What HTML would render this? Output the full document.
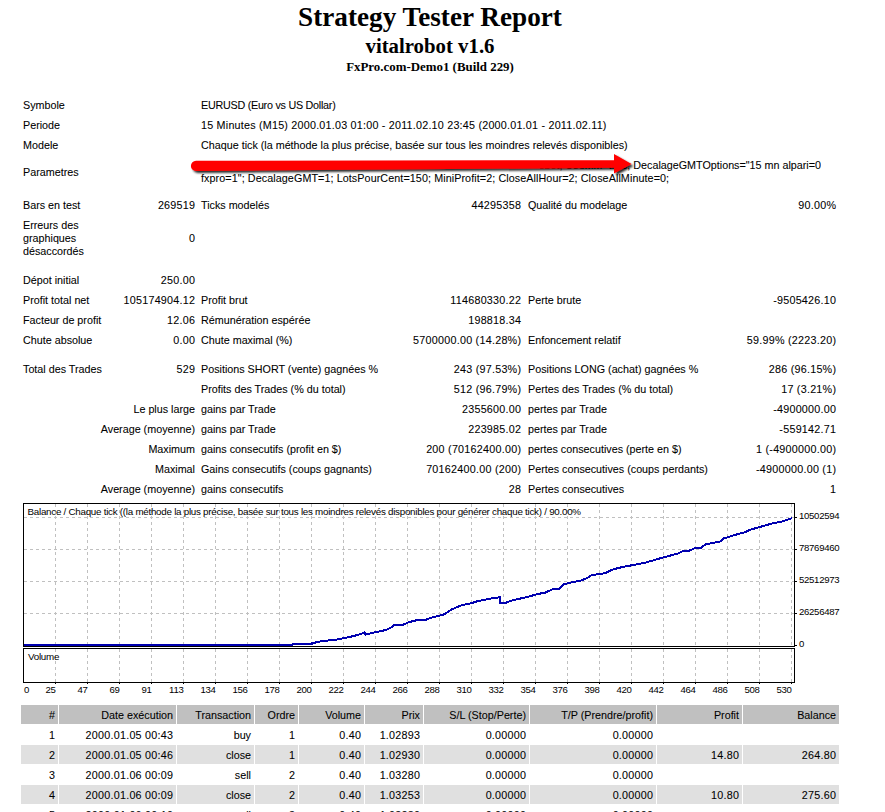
<!DOCTYPE html>
<html><head><meta charset="utf-8"><title>Strategy Tester Report</title>
<style>
html,body{margin:0;padding:0;background:#fff;}
body{width:885px;height:812px;overflow:hidden;position:relative;}
.t{position:absolute;font-family:"Liberation Sans",sans-serif;font-size:10.75px;line-height:13px;white-space:nowrap;color:#000;-webkit-text-stroke:0.07px #000;}
.bg{position:absolute;height:19px;}
.h{position:absolute;left:0;width:860px;text-align:center;font-family:"Liberation Serif",serif;font-weight:bold;white-space:nowrap;color:#000;}
.chart{position:absolute;left:0;top:0;}
.ax{font-family:"Liberation Sans",sans-serif;font-size:9.6px;letter-spacing:-0.3px;fill:#000;}
.ct{font-family:"Liberation Sans",sans-serif;font-size:9.8px;letter-spacing:-0.26px;fill:#000;}
</style></head><body>
<div class="h" style="top:1px;font-size:27.2px;line-height:32px;">Strategy Tester Report</div>
<div class="h" style="top:34px;font-size:20.8px;line-height:24px;">vitalrobot v1.6</div>
<div class="h" style="top:58.5px;font-size:12.9px;line-height:16px;">FxPro.com-Demo1 (Build 229)</div>
<div class="t" style="left:23px;top:99px;">Symbole</div>
<div class="t" style="left:201px;top:99px;letter-spacing:-0.25px;">EURUSD (Euro vs US Dollar)</div>
<div class="t" style="left:23px;top:119px;">Periode</div>
<div class="t" style="left:201px;top:119px;letter-spacing:0.22px;">15 Minutes (M15) 2000.01.03 01:00 - 2011.02.10 23:45 (2000.01.01 - 2011.02.11)</div>
<div class="t" style="left:23px;top:139px;">Modele</div>
<div class="t" style="left:201px;top:139px;">Chaque tick (la méthode la plus précise, basée sur tous les moindres relevés disponibles)</div>
<div class="t" style="left:23px;top:166px;">Parametres</div>
<div style="position:absolute;left:540px;top:159px;width:281px;height:12px;overflow:hidden;"><div class="t" style="right:0;top:0;">TakeProfit=0; StopLoss=0; Lots=0.1; MaxTrades=1; Slippage=3; MagicNumber=229; OrderComment=vitalrobot; UseMM=true; DecalageGMTOptions="15 mn alpari=0</div></div>
<div class="t" style="left:201px;top:172px;letter-spacing:0.087px;">fxpro=1"; DecalageGMT=1; LotsPourCent=150; MiniProfit=2; CloseAllHour=2; CloseAllMinute=0;</div>
<div class="t" style="left:23px;top:199px;">Bars en test</div>
<div class="t" style="right:690px;top:199px;letter-spacing:0.25px;margin-right:-0.25px;">269519</div>
<div class="t" style="left:201px;top:199px;">Ticks modelés</div>
<div class="t" style="right:364px;top:199px;letter-spacing:0.25px;margin-right:-0.25px;">44295358</div>
<div class="t" style="left:528px;top:199px;">Qualité du modelage</div>
<div class="t" style="right:49px;top:199px;letter-spacing:0.25px;margin-right:-0.25px;">90.00%</div>
<div class="t" style="left:23px;top:274px;">Dépot initial</div>
<div class="t" style="right:690px;top:274px;letter-spacing:0.25px;margin-right:-0.25px;">250.00</div>
<div class="t" style="left:23px;top:294px;">Profit total net</div>
<div class="t" style="right:690px;top:294px;letter-spacing:0.25px;margin-right:-0.25px;">105174904.12</div>
<div class="t" style="left:201px;top:294px;">Profit brut</div>
<div class="t" style="right:364px;top:294px;letter-spacing:0.25px;margin-right:-0.25px;">114680330.22</div>
<div class="t" style="left:528px;top:294px;">Perte brute</div>
<div class="t" style="right:49px;top:294px;letter-spacing:0.25px;margin-right:-0.25px;">-9505426.10</div>
<div class="t" style="left:23px;top:314px;">Facteur de profit</div>
<div class="t" style="right:690px;top:314px;letter-spacing:0.25px;margin-right:-0.25px;">12.06</div>
<div class="t" style="left:201px;top:314px;">Rémunération espérée</div>
<div class="t" style="right:364px;top:314px;letter-spacing:0.25px;margin-right:-0.25px;">198818.34</div>
<div class="t" style="left:23px;top:334px;">Chute absolue</div>
<div class="t" style="right:690px;top:334px;letter-spacing:0.25px;margin-right:-0.25px;">0.00</div>
<div class="t" style="left:201px;top:334px;">Chute maximal (%)</div>
<div class="t" style="right:364px;top:334px;letter-spacing:0.25px;margin-right:-0.25px;">5700000.00 (14.28%)</div>
<div class="t" style="left:528px;top:334px;">Enfoncement relatif</div>
<div class="t" style="right:49px;top:334px;letter-spacing:0.25px;margin-right:-0.25px;">59.99% (2223.20)</div>
<div class="t" style="left:23px;top:363px;">Total des Trades</div>
<div class="t" style="right:690px;top:363px;letter-spacing:0.25px;margin-right:-0.25px;">529</div>
<div class="t" style="left:201px;top:363px;">Positions SHORT (vente) gagnées %</div>
<div class="t" style="right:364px;top:363px;letter-spacing:0.25px;margin-right:-0.25px;">243 (97.53%)</div>
<div class="t" style="left:528px;top:363px;">Positions LONG (achat) gagnées %</div>
<div class="t" style="right:49px;top:363px;letter-spacing:0.25px;margin-right:-0.25px;">286 (96.15%)</div>
<div class="t" style="left:201px;top:383px;">Profits des Trades (% du total)</div>
<div class="t" style="right:364px;top:383px;letter-spacing:0.25px;margin-right:-0.25px;">512 (96.79%)</div>
<div class="t" style="left:528px;top:383px;">Pertes des Trades (% du total)</div>
<div class="t" style="right:49px;top:383px;letter-spacing:0.25px;margin-right:-0.25px;">17 (3.21%)</div>
<div class="t" style="right:690px;top:403px;">Le plus large</div>
<div class="t" style="left:201px;top:403px;">gains par Trade</div>
<div class="t" style="right:364px;top:403px;letter-spacing:0.25px;margin-right:-0.25px;">2355600.00</div>
<div class="t" style="left:528px;top:403px;">pertes par Trade</div>
<div class="t" style="right:49px;top:403px;letter-spacing:0.25px;margin-right:-0.25px;">-4900000.00</div>
<div class="t" style="right:690px;top:423px;">Average (moyenne)</div>
<div class="t" style="left:201px;top:423px;">gains par Trade</div>
<div class="t" style="right:364px;top:423px;letter-spacing:0.25px;margin-right:-0.25px;">223985.02</div>
<div class="t" style="left:528px;top:423px;">pertes par Trade</div>
<div class="t" style="right:49px;top:423px;letter-spacing:0.25px;margin-right:-0.25px;">-559142.71</div>
<div class="t" style="right:690px;top:443px;">Maximum</div>
<div class="t" style="left:201px;top:443px;">gains consecutifs (profit en $)</div>
<div class="t" style="right:364px;top:443px;letter-spacing:0.25px;margin-right:-0.25px;">200 (70162400.00)</div>
<div class="t" style="left:528px;top:443px;">pertes consecutives (perte en $)</div>
<div class="t" style="right:49px;top:443px;letter-spacing:0.25px;margin-right:-0.25px;">1 (-4900000.00)</div>
<div class="t" style="right:690px;top:463px;">Maximal</div>
<div class="t" style="left:201px;top:463px;">Gains consecutifs (coups gagnants)</div>
<div class="t" style="right:364px;top:463px;letter-spacing:0.25px;margin-right:-0.25px;">70162400.00 (200)</div>
<div class="t" style="left:528px;top:463px;">Pertes consecutives (coups perdants)</div>
<div class="t" style="right:49px;top:463px;letter-spacing:0.25px;margin-right:-0.25px;">-4900000.00 (1)</div>
<div class="t" style="right:690px;top:483px;">Average (moyenne)</div>
<div class="t" style="left:201px;top:483px;">gains consecutifs</div>
<div class="t" style="right:364px;top:483px;letter-spacing:0.25px;margin-right:-0.25px;">28</div>
<div class="t" style="left:528px;top:483px;">Pertes consecutives</div>
<div class="t" style="right:49px;top:483px;letter-spacing:0.25px;margin-right:-0.25px;">1</div>
<div class="t" style="left:23px;top:219px;">Erreurs des</div>
<div class="t" style="left:23px;top:232px;">graphiques</div>
<div class="t" style="left:23px;top:245px;">désaccordés</div>
<div class="t" style="right:690px;top:232px;letter-spacing:0.25px;margin-right:-0.25px;">0</div>
<div class="bg" style="left:21px;top:705px;width:37px;background:#C0C0C0"></div>
<div class="bg" style="left:59px;top:705px;width:117px;background:#C0C0C0"></div>
<div class="bg" style="left:177px;top:705px;width:77px;background:#C0C0C0"></div>
<div class="bg" style="left:255px;top:705px;width:43px;background:#C0C0C0"></div>
<div class="bg" style="left:299px;top:705px;width:65px;background:#C0C0C0"></div>
<div class="bg" style="left:365px;top:705px;width:58px;background:#C0C0C0"></div>
<div class="bg" style="left:424px;top:705px;width:105px;background:#C0C0C0"></div>
<div class="bg" style="left:530px;top:705px;width:126px;background:#C0C0C0"></div>
<div class="bg" style="left:657px;top:705px;width:85px;background:#C0C0C0"></div>
<div class="bg" style="left:743px;top:705px;width:96px;background:#C0C0C0"></div>
<div class="t" style="right:830px;top:709px;">#</div>
<div class="t" style="right:712px;top:709px;">Date exécution</div>
<div class="t" style="right:634px;top:709px;">Transaction</div>
<div class="t" style="right:590px;top:709px;">Ordre</div>
<div class="t" style="right:524px;top:709px;">Volume</div>
<div class="t" style="right:465px;top:709px;">Prix</div>
<div class="t" style="right:359px;top:709px;">S/L (Stop/Perte)</div>
<div class="t" style="right:232px;top:709px;">T/P (Prendre/profit)</div>
<div class="t" style="right:146px;top:709px;">Profit</div>
<div class="t" style="right:49px;top:709px;">Balance</div>
<div class="t" style="right:830px;top:729px;letter-spacing:0.25px;margin-right:-0.25px;">1</div>
<div class="t" style="right:712px;top:729px;letter-spacing:0.25px;margin-right:-0.25px;">2000.01.05 00:43</div>
<div class="t" style="right:634px;top:729px;">buy</div>
<div class="t" style="right:590px;top:729px;letter-spacing:0.25px;margin-right:-0.25px;">1</div>
<div class="t" style="right:524px;top:729px;letter-spacing:0.25px;margin-right:-0.25px;">0.40</div>
<div class="t" style="right:465px;top:729px;letter-spacing:0.25px;margin-right:-0.25px;">1.02893</div>
<div class="t" style="right:359px;top:729px;letter-spacing:0.25px;margin-right:-0.25px;">0.00000</div>
<div class="t" style="right:232px;top:729px;letter-spacing:0.25px;margin-right:-0.25px;">0.00000</div>
<div class="bg" style="left:21px;top:745px;width:37px;background:#E0E0E0"></div>
<div class="bg" style="left:59px;top:745px;width:117px;background:#E0E0E0"></div>
<div class="bg" style="left:177px;top:745px;width:77px;background:#E0E0E0"></div>
<div class="bg" style="left:255px;top:745px;width:43px;background:#E0E0E0"></div>
<div class="bg" style="left:299px;top:745px;width:65px;background:#E0E0E0"></div>
<div class="bg" style="left:365px;top:745px;width:58px;background:#E0E0E0"></div>
<div class="bg" style="left:424px;top:745px;width:105px;background:#E0E0E0"></div>
<div class="bg" style="left:530px;top:745px;width:126px;background:#E0E0E0"></div>
<div class="bg" style="left:657px;top:745px;width:85px;background:#E0E0E0"></div>
<div class="bg" style="left:743px;top:745px;width:96px;background:#E0E0E0"></div>
<div class="t" style="right:830px;top:749px;letter-spacing:0.25px;margin-right:-0.25px;">2</div>
<div class="t" style="right:712px;top:749px;letter-spacing:0.25px;margin-right:-0.25px;">2000.01.05 00:46</div>
<div class="t" style="right:634px;top:749px;">close</div>
<div class="t" style="right:590px;top:749px;letter-spacing:0.25px;margin-right:-0.25px;">1</div>
<div class="t" style="right:524px;top:749px;letter-spacing:0.25px;margin-right:-0.25px;">0.40</div>
<div class="t" style="right:465px;top:749px;letter-spacing:0.25px;margin-right:-0.25px;">1.02930</div>
<div class="t" style="right:359px;top:749px;letter-spacing:0.25px;margin-right:-0.25px;">0.00000</div>
<div class="t" style="right:232px;top:749px;letter-spacing:0.25px;margin-right:-0.25px;">0.00000</div>
<div class="t" style="right:146px;top:749px;letter-spacing:0.25px;margin-right:-0.25px;">14.80</div>
<div class="t" style="right:49px;top:749px;letter-spacing:0.25px;margin-right:-0.25px;">264.80</div>
<div class="t" style="right:830px;top:769px;letter-spacing:0.25px;margin-right:-0.25px;">3</div>
<div class="t" style="right:712px;top:769px;letter-spacing:0.25px;margin-right:-0.25px;">2000.01.06 00:09</div>
<div class="t" style="right:634px;top:769px;">sell</div>
<div class="t" style="right:590px;top:769px;letter-spacing:0.25px;margin-right:-0.25px;">2</div>
<div class="t" style="right:524px;top:769px;letter-spacing:0.25px;margin-right:-0.25px;">0.40</div>
<div class="t" style="right:465px;top:769px;letter-spacing:0.25px;margin-right:-0.25px;">1.03280</div>
<div class="t" style="right:359px;top:769px;letter-spacing:0.25px;margin-right:-0.25px;">0.00000</div>
<div class="t" style="right:232px;top:769px;letter-spacing:0.25px;margin-right:-0.25px;">0.00000</div>
<div class="bg" style="left:21px;top:785px;width:37px;background:#E0E0E0"></div>
<div class="bg" style="left:59px;top:785px;width:117px;background:#E0E0E0"></div>
<div class="bg" style="left:177px;top:785px;width:77px;background:#E0E0E0"></div>
<div class="bg" style="left:255px;top:785px;width:43px;background:#E0E0E0"></div>
<div class="bg" style="left:299px;top:785px;width:65px;background:#E0E0E0"></div>
<div class="bg" style="left:365px;top:785px;width:58px;background:#E0E0E0"></div>
<div class="bg" style="left:424px;top:785px;width:105px;background:#E0E0E0"></div>
<div class="bg" style="left:530px;top:785px;width:126px;background:#E0E0E0"></div>
<div class="bg" style="left:657px;top:785px;width:85px;background:#E0E0E0"></div>
<div class="bg" style="left:743px;top:785px;width:96px;background:#E0E0E0"></div>
<div class="t" style="right:830px;top:789px;letter-spacing:0.25px;margin-right:-0.25px;">4</div>
<div class="t" style="right:712px;top:789px;letter-spacing:0.25px;margin-right:-0.25px;">2000.01.06 00:09</div>
<div class="t" style="right:634px;top:789px;">close</div>
<div class="t" style="right:590px;top:789px;letter-spacing:0.25px;margin-right:-0.25px;">2</div>
<div class="t" style="right:524px;top:789px;letter-spacing:0.25px;margin-right:-0.25px;">0.40</div>
<div class="t" style="right:465px;top:789px;letter-spacing:0.25px;margin-right:-0.25px;">1.03253</div>
<div class="t" style="right:359px;top:789px;letter-spacing:0.25px;margin-right:-0.25px;">0.00000</div>
<div class="t" style="right:232px;top:789px;letter-spacing:0.25px;margin-right:-0.25px;">0.00000</div>
<div class="t" style="right:146px;top:789px;letter-spacing:0.25px;margin-right:-0.25px;">10.80</div>
<div class="t" style="right:49px;top:789px;letter-spacing:0.25px;margin-right:-0.25px;">275.60</div>
<div class="t" style="right:830px;top:809px;letter-spacing:0.25px;margin-right:-0.25px;">5</div>
<div class="t" style="right:712px;top:809px;letter-spacing:0.25px;margin-right:-0.25px;">2000.01.06 00:10</div>
<div class="t" style="right:634px;top:809px;">sell</div>
<div class="t" style="right:590px;top:809px;letter-spacing:0.25px;margin-right:-0.25px;">3</div>
<div class="t" style="right:524px;top:809px;letter-spacing:0.25px;margin-right:-0.25px;">0.40</div>
<div class="t" style="right:465px;top:809px;letter-spacing:0.25px;margin-right:-0.25px;">1.03280</div>
<div class="t" style="right:359px;top:809px;letter-spacing:0.25px;margin-right:-0.25px;">0.00000</div>
<div class="t" style="right:232px;top:809px;letter-spacing:0.25px;margin-right:-0.25px;">0.00000</div>
<svg class="chart" width="885" height="812" viewBox="0 0 885 812"><line x1="55.5" y1="504" x2="55.5" y2="646" stroke="#C0C0C0" stroke-dasharray="3 3"/><line x1="55.5" y1="649" x2="55.5" y2="682" stroke="#C0C0C0" stroke-dasharray="3 3"/><line x1="87.5" y1="504" x2="87.5" y2="646" stroke="#C0C0C0" stroke-dasharray="3 3"/><line x1="87.5" y1="649" x2="87.5" y2="682" stroke="#C0C0C0" stroke-dasharray="3 3"/><line x1="119.5" y1="504" x2="119.5" y2="646" stroke="#C0C0C0" stroke-dasharray="3 3"/><line x1="119.5" y1="649" x2="119.5" y2="682" stroke="#C0C0C0" stroke-dasharray="3 3"/><line x1="151.5" y1="504" x2="151.5" y2="646" stroke="#C0C0C0" stroke-dasharray="3 3"/><line x1="151.5" y1="649" x2="151.5" y2="682" stroke="#C0C0C0" stroke-dasharray="3 3"/><line x1="183.5" y1="504" x2="183.5" y2="646" stroke="#C0C0C0" stroke-dasharray="3 3"/><line x1="183.5" y1="649" x2="183.5" y2="682" stroke="#C0C0C0" stroke-dasharray="3 3"/><line x1="215.5" y1="504" x2="215.5" y2="646" stroke="#C0C0C0" stroke-dasharray="3 3"/><line x1="215.5" y1="649" x2="215.5" y2="682" stroke="#C0C0C0" stroke-dasharray="3 3"/><line x1="247.5" y1="504" x2="247.5" y2="646" stroke="#C0C0C0" stroke-dasharray="3 3"/><line x1="247.5" y1="649" x2="247.5" y2="682" stroke="#C0C0C0" stroke-dasharray="3 3"/><line x1="279.5" y1="504" x2="279.5" y2="646" stroke="#C0C0C0" stroke-dasharray="3 3"/><line x1="279.5" y1="649" x2="279.5" y2="682" stroke="#C0C0C0" stroke-dasharray="3 3"/><line x1="311.5" y1="504" x2="311.5" y2="646" stroke="#C0C0C0" stroke-dasharray="3 3"/><line x1="311.5" y1="649" x2="311.5" y2="682" stroke="#C0C0C0" stroke-dasharray="3 3"/><line x1="343.5" y1="504" x2="343.5" y2="646" stroke="#C0C0C0" stroke-dasharray="3 3"/><line x1="343.5" y1="649" x2="343.5" y2="682" stroke="#C0C0C0" stroke-dasharray="3 3"/><line x1="375.5" y1="504" x2="375.5" y2="646" stroke="#C0C0C0" stroke-dasharray="3 3"/><line x1="375.5" y1="649" x2="375.5" y2="682" stroke="#C0C0C0" stroke-dasharray="3 3"/><line x1="407.5" y1="504" x2="407.5" y2="646" stroke="#C0C0C0" stroke-dasharray="3 3"/><line x1="407.5" y1="649" x2="407.5" y2="682" stroke="#C0C0C0" stroke-dasharray="3 3"/><line x1="439.5" y1="504" x2="439.5" y2="646" stroke="#C0C0C0" stroke-dasharray="3 3"/><line x1="439.5" y1="649" x2="439.5" y2="682" stroke="#C0C0C0" stroke-dasharray="3 3"/><line x1="471.5" y1="504" x2="471.5" y2="646" stroke="#C0C0C0" stroke-dasharray="3 3"/><line x1="471.5" y1="649" x2="471.5" y2="682" stroke="#C0C0C0" stroke-dasharray="3 3"/><line x1="503.5" y1="504" x2="503.5" y2="646" stroke="#C0C0C0" stroke-dasharray="3 3"/><line x1="503.5" y1="649" x2="503.5" y2="682" stroke="#C0C0C0" stroke-dasharray="3 3"/><line x1="535.5" y1="504" x2="535.5" y2="646" stroke="#C0C0C0" stroke-dasharray="3 3"/><line x1="535.5" y1="649" x2="535.5" y2="682" stroke="#C0C0C0" stroke-dasharray="3 3"/><line x1="567.5" y1="504" x2="567.5" y2="646" stroke="#C0C0C0" stroke-dasharray="3 3"/><line x1="567.5" y1="649" x2="567.5" y2="682" stroke="#C0C0C0" stroke-dasharray="3 3"/><line x1="599.5" y1="504" x2="599.5" y2="646" stroke="#C0C0C0" stroke-dasharray="3 3"/><line x1="599.5" y1="649" x2="599.5" y2="682" stroke="#C0C0C0" stroke-dasharray="3 3"/><line x1="631.5" y1="504" x2="631.5" y2="646" stroke="#C0C0C0" stroke-dasharray="3 3"/><line x1="631.5" y1="649" x2="631.5" y2="682" stroke="#C0C0C0" stroke-dasharray="3 3"/><line x1="663.5" y1="504" x2="663.5" y2="646" stroke="#C0C0C0" stroke-dasharray="3 3"/><line x1="663.5" y1="649" x2="663.5" y2="682" stroke="#C0C0C0" stroke-dasharray="3 3"/><line x1="695.5" y1="504" x2="695.5" y2="646" stroke="#C0C0C0" stroke-dasharray="3 3"/><line x1="695.5" y1="649" x2="695.5" y2="682" stroke="#C0C0C0" stroke-dasharray="3 3"/><line x1="727.5" y1="504" x2="727.5" y2="646" stroke="#C0C0C0" stroke-dasharray="3 3"/><line x1="727.5" y1="649" x2="727.5" y2="682" stroke="#C0C0C0" stroke-dasharray="3 3"/><line x1="759.5" y1="504" x2="759.5" y2="646" stroke="#C0C0C0" stroke-dasharray="3 3"/><line x1="759.5" y1="649" x2="759.5" y2="682" stroke="#C0C0C0" stroke-dasharray="3 3"/><line x1="791.5" y1="504" x2="791.5" y2="646" stroke="#C0C0C0" stroke-dasharray="3 3"/><line x1="791.5" y1="649" x2="791.5" y2="682" stroke="#C0C0C0" stroke-dasharray="3 3"/><line x1="24" y1="517.5" x2="794" y2="517.5" stroke="#C0C0C0" stroke-dasharray="3 3"/><line x1="24" y1="549.5" x2="794" y2="549.5" stroke="#C0C0C0" stroke-dasharray="3 3"/><line x1="24" y1="581.5" x2="794" y2="581.5" stroke="#C0C0C0" stroke-dasharray="3 3"/><line x1="24" y1="613.5" x2="794" y2="613.5" stroke="#C0C0C0" stroke-dasharray="3 3"/><rect x="23.5" y="503.5" width="771" height="143" fill="none" stroke="#000"/><rect x="23.5" y="648.5" width="771" height="34" fill="none" stroke="#000"/><line x1="795" y1="517.5" x2="797" y2="517.5" stroke="#000"/><text x="799" y="519" class="ax">10502594</text><line x1="795" y1="549.5" x2="797" y2="549.5" stroke="#000"/><text x="799" y="551" class="ax">78769460</text><line x1="795" y1="581.5" x2="797" y2="581.5" stroke="#000"/><text x="799" y="583" class="ax">52512973</text><line x1="795" y1="613.5" x2="797" y2="613.5" stroke="#000"/><text x="799" y="615" class="ax">26256487</text><line x1="795" y1="645.5" x2="797" y2="645.5" stroke="#000"/><text x="799" y="647" class="ax">0</text><text x="24" y="693" class="ax">0</text><line x1="55.5" y1="683" x2="55.5" y2="684" stroke="#000"/><text x="55.5" y="693" class="ax" text-anchor="end">25</text><line x1="87.5" y1="683" x2="87.5" y2="684" stroke="#000"/><text x="87.5" y="693" class="ax" text-anchor="end">47</text><line x1="119.5" y1="683" x2="119.5" y2="684" stroke="#000"/><text x="119.5" y="693" class="ax" text-anchor="end">69</text><line x1="151.5" y1="683" x2="151.5" y2="684" stroke="#000"/><text x="151.5" y="693" class="ax" text-anchor="end">91</text><line x1="183.5" y1="683" x2="183.5" y2="684" stroke="#000"/><text x="183.5" y="693" class="ax" text-anchor="end">113</text><line x1="215.5" y1="683" x2="215.5" y2="684" stroke="#000"/><text x="215.5" y="693" class="ax" text-anchor="end">134</text><line x1="247.5" y1="683" x2="247.5" y2="684" stroke="#000"/><text x="247.5" y="693" class="ax" text-anchor="end">156</text><line x1="279.5" y1="683" x2="279.5" y2="684" stroke="#000"/><text x="279.5" y="693" class="ax" text-anchor="end">178</text><line x1="311.5" y1="683" x2="311.5" y2="684" stroke="#000"/><text x="311.5" y="693" class="ax" text-anchor="end">200</text><line x1="343.5" y1="683" x2="343.5" y2="684" stroke="#000"/><text x="343.5" y="693" class="ax" text-anchor="end">222</text><line x1="375.5" y1="683" x2="375.5" y2="684" stroke="#000"/><text x="375.5" y="693" class="ax" text-anchor="end">244</text><line x1="407.5" y1="683" x2="407.5" y2="684" stroke="#000"/><text x="407.5" y="693" class="ax" text-anchor="end">266</text><line x1="439.5" y1="683" x2="439.5" y2="684" stroke="#000"/><text x="439.5" y="693" class="ax" text-anchor="end">288</text><line x1="471.5" y1="683" x2="471.5" y2="684" stroke="#000"/><text x="471.5" y="693" class="ax" text-anchor="end">310</text><line x1="503.5" y1="683" x2="503.5" y2="684" stroke="#000"/><text x="503.5" y="693" class="ax" text-anchor="end">332</text><line x1="535.5" y1="683" x2="535.5" y2="684" stroke="#000"/><text x="535.5" y="693" class="ax" text-anchor="end">354</text><line x1="567.5" y1="683" x2="567.5" y2="684" stroke="#000"/><text x="567.5" y="693" class="ax" text-anchor="end">376</text><line x1="599.5" y1="683" x2="599.5" y2="684" stroke="#000"/><text x="599.5" y="693" class="ax" text-anchor="end">398</text><line x1="631.5" y1="683" x2="631.5" y2="684" stroke="#000"/><text x="631.5" y="693" class="ax" text-anchor="end">420</text><line x1="663.5" y1="683" x2="663.5" y2="684" stroke="#000"/><text x="663.5" y="693" class="ax" text-anchor="end">442</text><line x1="695.5" y1="683" x2="695.5" y2="684" stroke="#000"/><text x="695.5" y="693" class="ax" text-anchor="end">464</text><line x1="727.5" y1="683" x2="727.5" y2="684" stroke="#000"/><text x="727.5" y="693" class="ax" text-anchor="end">486</text><line x1="759.5" y1="683" x2="759.5" y2="684" stroke="#000"/><text x="759.5" y="693" class="ax" text-anchor="end">508</text><line x1="791.5" y1="683" x2="791.5" y2="684" stroke="#000"/><text x="791.5" y="693" class="ax" text-anchor="end">530</text><text x="27.5" y="515" class="ct">Balance / Chaque tick ((la méthode la plus précise, basée sur tous les moindres relevés disponibles pour générer chaque tick) / 90.00%</text><text x="28" y="660" class="ct">Volume</text><path d="M24,645 L292,645 L293,644.1 L311.7,644.1 L312,643.3 L321.9,641.1 L334,640 L343.6,638.3 L353.7,636 L360.5,634.2 L364.6,632.5 L365.3,634.6 L370,633.5 L376.8,631.9 L385,630.2 L390.3,628.1 L393.7,625.4 L401.9,625.4 L408,622.4 L416.3,620.3 L424.4,620.3 L432.5,617.3 L439.3,615.6 L444.7,614.2 L451.5,609.5 L461,605.4 L470.5,603.4 L477.3,601.3 L486.8,599.3 L492.2,598.2 L499.7,597.3 L500.3,603.4 L504.4,603.4 L510,601 L518.1,599 L527.6,597 L537,594.2 L545.3,592.6 L553.4,588.8 L558.8,588.8 L562.9,584.7 L569.7,582.7 L580.5,580.7 L587.3,578 L591.4,575.2 L605,573.2 L611.7,569.8 L621.2,567.3 L633.6,564.9 L644.4,562.9 L653.9,560.2 L663.4,557.4 L678.3,553.4 L682.4,551.3 L690.5,550.4 L695.9,547.5 L701.4,547.5 L705.4,544.4 L720,541.5 L723.7,538.4 L739.3,533.7 L744.7,532.4 L750.2,529.7 L759.7,527 L770.5,523.9 L781.4,521.6 L792,518.2" fill="none" stroke="#0000B0" stroke-width="2" stroke-linejoin="miter" shape-rendering="crispEdges"/><defs><filter id="sh" x="-5%" y="-50%" width="110%" height="250%"><feGaussianBlur in="SourceAlpha" stdDeviation="1"/><feOffset dx="1.5" dy="2.2" result="o"/><feComponentTransfer><feFuncA type="linear" slope="0.85"/></feComponentTransfer><feMerge><feMergeNode/><feMergeNode in="SourceGraphic"/></feMerge></filter></defs><path filter="url(#sh)" fill="#FF0000" d="M196,160.8 L614,160.2 L614,154 L631.5,164 L614,173.5 L614,167.8 L196,171 A5.1,5.1 0 0 1 196,160.8 Z"/></svg>
</body></html>
